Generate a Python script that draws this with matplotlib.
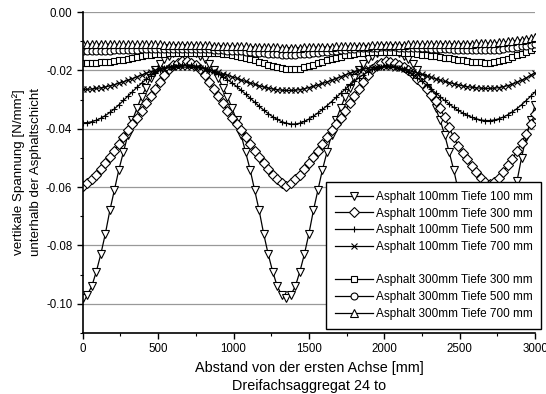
import matplotlib
matplotlib.use('Agg')
import matplotlib.pyplot as plt
from matplotlib.lines import Line2D
from matplotlib.ticker import MultipleLocator, FuncFormatter

plt.rcParams['font.family'] = ['Liberation Sans', 'DejaVu Sans']
plt.rcParams['axes.unicode_minus'] = False

# position along the road [mm], 30 mm steps
abstand = list(range(0, 3001, 30))

# Asphalt 100mm, Tiefe 100 mm
a100_t100 = [
    -0.0980, -0.0970, -0.0940, -0.0890, -0.0830, -0.0760, -0.0680, -0.0610, -0.0540, -0.0480,
    -0.0420, -0.0370, -0.0330, -0.0290, -0.0260, -0.0225, -0.0198, -0.0178, -0.0162, -0.0150,
    -0.0141, -0.0135, -0.0132, -0.0132, -0.0135, -0.0141, -0.0150, -0.0162, -0.0178, -0.0198,
    -0.0225, -0.0260, -0.0290, -0.0330, -0.0370, -0.0420, -0.0480, -0.0540, -0.0610, -0.0680,
    -0.0760, -0.0830, -0.0890, -0.0940, -0.0970, -0.0980, -0.0970, -0.0940, -0.0890, -0.0830,
    -0.0760, -0.0680, -0.0610, -0.0540, -0.0480, -0.0420, -0.0370, -0.0330, -0.0290, -0.0260,
    -0.0225, -0.0198, -0.0178, -0.0162, -0.0150, -0.0141, -0.0135, -0.0132, -0.0132, -0.0135,
    -0.0141, -0.0150, -0.0162, -0.0178, -0.0198, -0.0225, -0.0260, -0.0290, -0.0330, -0.0370,
    -0.0420, -0.0480, -0.0540, -0.0610, -0.0680, -0.0760, -0.0830, -0.0890, -0.0940, -0.0970,
    -0.0980, -0.0960, -0.0920, -0.0850, -0.0760, -0.0670, -0.0580, -0.0500, -0.0430, -0.0370,
    -0.0320,
]

# Asphalt 100mm, Tiefe 300 mm
a100_t300 = [
    -0.0595, -0.0587, -0.0574, -0.0557, -0.0538, -0.0518, -0.0497, -0.0475, -0.0452, -0.0428,
    -0.0405, -0.0385, -0.0362, -0.0338, -0.0313, -0.0289, -0.0265, -0.0240, -0.0215, -0.0195,
    -0.0183, -0.0174, -0.0169, -0.0169, -0.0174, -0.0183, -0.0195, -0.0215, -0.0240, -0.0265,
    -0.0289, -0.0313, -0.0338, -0.0362, -0.0385, -0.0405, -0.0428, -0.0452, -0.0475, -0.0497,
    -0.0518, -0.0538, -0.0557, -0.0574, -0.0587, -0.0595, -0.0587, -0.0574, -0.0557, -0.0538,
    -0.0518, -0.0497, -0.0475, -0.0452, -0.0428, -0.0405, -0.0385, -0.0362, -0.0338, -0.0313,
    -0.0289, -0.0265, -0.0240, -0.0215, -0.0195, -0.0183, -0.0174, -0.0169, -0.0170, -0.0174,
    -0.0180, -0.0189, -0.0200, -0.0213, -0.0228, -0.0245, -0.0263, -0.0283, -0.0305, -0.0330,
    -0.0360, -0.0395, -0.0430, -0.0458, -0.0482, -0.0505, -0.0527, -0.0548, -0.0568, -0.0582,
    -0.0590, -0.0584, -0.0570, -0.0548, -0.0525, -0.0505, -0.0475, -0.0448, -0.0418, -0.0385,
    -0.0348,
]

# Asphalt 100mm, Tiefe 500 mm
a100_t500 = [
    -0.0380, -0.0379, -0.0376, -0.0371, -0.0364, -0.0355, -0.0344, -0.0332, -0.0318, -0.0303,
    -0.0288, -0.0273, -0.0258, -0.0244, -0.0231, -0.0219, -0.0209, -0.0200, -0.0193, -0.0188,
    -0.0185, -0.0183, -0.0182, -0.0182, -0.0183, -0.0185, -0.0188, -0.0192, -0.0198, -0.0205,
    -0.0213, -0.0222, -0.0232, -0.0243, -0.0255, -0.0268, -0.0281, -0.0295, -0.0309, -0.0323,
    -0.0336, -0.0348, -0.0359, -0.0368, -0.0376, -0.0381, -0.0384, -0.0384, -0.0381, -0.0375,
    -0.0367, -0.0357, -0.0346, -0.0334, -0.0321, -0.0307, -0.0293, -0.0279, -0.0265, -0.0251,
    -0.0238, -0.0226, -0.0215, -0.0205, -0.0197, -0.0191, -0.0187, -0.0185, -0.0185, -0.0187,
    -0.0191, -0.0197, -0.0205, -0.0215, -0.0226, -0.0238, -0.0251, -0.0264, -0.0277, -0.0290,
    -0.0303, -0.0315, -0.0327, -0.0337, -0.0346, -0.0354, -0.0361, -0.0366, -0.0370, -0.0372,
    -0.0372, -0.0370, -0.0366, -0.0360, -0.0352, -0.0342, -0.0331, -0.0318, -0.0304, -0.0289,
    -0.0274,
]

# Asphalt 100mm, Tiefe 700 mm
a100_t700 = [
    -0.0265, -0.0265, -0.0264, -0.0262, -0.0260, -0.0257, -0.0253, -0.0249, -0.0244, -0.0239,
    -0.0234, -0.0228, -0.0222, -0.0216, -0.0210, -0.0205, -0.0200, -0.0196, -0.0193, -0.0191,
    -0.0190, -0.0189, -0.0189, -0.0189, -0.0190, -0.0191, -0.0193, -0.0196, -0.0199, -0.0203,
    -0.0207, -0.0212, -0.0217, -0.0222, -0.0227, -0.0233, -0.0238, -0.0243, -0.0248, -0.0253,
    -0.0257, -0.0261, -0.0264, -0.0266, -0.0268, -0.0269, -0.0269, -0.0268, -0.0266, -0.0263,
    -0.0259, -0.0255, -0.0250, -0.0245, -0.0240, -0.0234, -0.0228, -0.0222, -0.0216, -0.0210,
    -0.0205, -0.0200, -0.0196, -0.0193, -0.0191, -0.0190, -0.0189, -0.0189, -0.0190, -0.0191,
    -0.0193, -0.0196, -0.0200, -0.0204, -0.0209, -0.0214, -0.0219, -0.0224, -0.0229, -0.0234,
    -0.0238, -0.0242, -0.0246, -0.0250, -0.0253, -0.0256, -0.0258, -0.0260, -0.0261, -0.0262,
    -0.0262, -0.0261, -0.0259, -0.0256, -0.0252, -0.0247, -0.0241, -0.0234, -0.0226, -0.0217,
    -0.0208,
]

# Asphalt 300mm, Tiefe 300 mm
a300_t300 = [
    -0.0175, -0.0175, -0.0175, -0.0174, -0.0173, -0.0172, -0.0170, -0.0168, -0.0166, -0.0163,
    -0.0160, -0.0157, -0.0154, -0.0151, -0.0149, -0.0147, -0.0145, -0.0144, -0.0143, -0.0142,
    -0.0141, -0.0141, -0.0140, -0.0140, -0.0140, -0.0140, -0.0140, -0.0140, -0.0141, -0.0141,
    -0.0142, -0.0143, -0.0145, -0.0147, -0.0150, -0.0153, -0.0157, -0.0161, -0.0165, -0.0170,
    -0.0175, -0.0180, -0.0185, -0.0189, -0.0193, -0.0195, -0.0197, -0.0196, -0.0194, -0.0190,
    -0.0186, -0.0181, -0.0176, -0.0171, -0.0166, -0.0161, -0.0157, -0.0153, -0.0149, -0.0146,
    -0.0143, -0.0141, -0.0139, -0.0138, -0.0137, -0.0136, -0.0136, -0.0136, -0.0136, -0.0137,
    -0.0138, -0.0139, -0.0141, -0.0142, -0.0144, -0.0146, -0.0148, -0.0150, -0.0152, -0.0154,
    -0.0157, -0.0159, -0.0162, -0.0164, -0.0166, -0.0168, -0.0170, -0.0172, -0.0173, -0.0174,
    -0.0174, -0.0172, -0.0169, -0.0165, -0.0160, -0.0155, -0.0149, -0.0143, -0.0137, -0.0131,
    -0.0125,
]

# Asphalt 300mm, Tiefe 500 mm
a300_t500 = [
    -0.0133, -0.0133, -0.0133, -0.0133, -0.0132, -0.0132, -0.0132, -0.0131, -0.0131, -0.0130,
    -0.0130, -0.0129, -0.0129, -0.0128, -0.0128, -0.0128, -0.0127, -0.0127, -0.0127, -0.0127,
    -0.0127, -0.0127, -0.0127, -0.0127, -0.0127, -0.0127, -0.0127, -0.0128, -0.0128, -0.0129,
    -0.0130, -0.0131, -0.0132, -0.0133, -0.0134, -0.0135, -0.0137, -0.0138, -0.0139, -0.0141,
    -0.0142, -0.0143, -0.0144, -0.0145, -0.0146, -0.0146, -0.0146, -0.0146, -0.0145, -0.0144,
    -0.0143, -0.0141, -0.0140, -0.0138, -0.0136, -0.0134, -0.0132, -0.0130, -0.0129, -0.0127,
    -0.0126, -0.0125, -0.0124, -0.0123, -0.0122, -0.0122, -0.0121, -0.0121, -0.0121, -0.0121,
    -0.0122, -0.0122, -0.0123, -0.0123, -0.0124, -0.0124, -0.0125, -0.0126, -0.0126, -0.0127,
    -0.0128, -0.0128, -0.0129, -0.0129, -0.0130, -0.0130, -0.0131, -0.0131, -0.0131, -0.0131,
    -0.0131, -0.0130, -0.0129, -0.0127, -0.0125, -0.0123, -0.0121, -0.0118, -0.0115, -0.0112,
    -0.0108,
]

# Asphalt 300mm, Tiefe 700 mm
a300_t700 = [
    -0.0110, -0.0110, -0.0110, -0.0110, -0.0110, -0.0110, -0.0110, -0.0111, -0.0111, -0.0111,
    -0.0111, -0.0111, -0.0111, -0.0111, -0.0111, -0.0111, -0.0111, -0.0111, -0.0112, -0.0112,
    -0.0112, -0.0112, -0.0112, -0.0112, -0.0113, -0.0113, -0.0113, -0.0114, -0.0114, -0.0115,
    -0.0115, -0.0116, -0.0116, -0.0117, -0.0117, -0.0118, -0.0118, -0.0119, -0.0119, -0.0120,
    -0.0120, -0.0121, -0.0121, -0.0121, -0.0122, -0.0122, -0.0122, -0.0122, -0.0122, -0.0121,
    -0.0121, -0.0121, -0.0120, -0.0120, -0.0119, -0.0119, -0.0118, -0.0118, -0.0117, -0.0117,
    -0.0116, -0.0116, -0.0115, -0.0115, -0.0114, -0.0114, -0.0113, -0.0113, -0.0113, -0.0112,
    -0.0112, -0.0112, -0.0111, -0.0111, -0.0111, -0.0110, -0.0110, -0.0110, -0.0110, -0.0109,
    -0.0109, -0.0109, -0.0109, -0.0108, -0.0108, -0.0108, -0.0108, -0.0107, -0.0107, -0.0107,
    -0.0106, -0.0105, -0.0104, -0.0103, -0.0101, -0.0099, -0.0097, -0.0095, -0.0093, -0.0090,
    -0.0087,
]

series = [
    (a100_t100, 'v', 'Asphalt 100mm Tiefe 100 mm'),
    (a100_t300, 'D', 'Asphalt 100mm Tiefe 300 mm'),
    (a100_t500, '+', 'Asphalt 100mm Tiefe 500 mm'),
    (a100_t700, 'x', 'Asphalt 100mm Tiefe 700 mm'),
    (a300_t300, 's', 'Asphalt 300mm Tiefe 300 mm'),
    (a300_t500, 'o', 'Asphalt 300mm Tiefe 500 mm'),
    (a300_t700, '^', 'Asphalt 300mm Tiefe 700 mm'),
]
sizes = {'v': 5.4, 'D': 4.6, '+': 5.0, 'x': 4.4, 's': 4.8, 'o': 5.0, '^': 5.4}

fig = plt.figure(figsize=(5.46, 3.94), dpi=100)
ax = fig.add_axes([0.1515, 0.155, 0.8285, 0.8145])

handles = []
for vals, m, lab in series:
    ln, = ax.plot(abstand, vals, color='black', lw=0.9, marker=m, ms=sizes[m],
                  mfc='white', mec='black', mew=0.8, label=lab)
    handles.append(ln)

ax.set_xlim(0, 3000)
ax.set_ylim(-0.11, 0.0)
ax.xaxis.set_major_locator(MultipleLocator(500))
ax.xaxis.set_minor_locator(MultipleLocator(250))
ax.yaxis.set_major_locator(MultipleLocator(0.02))
ax.yaxis.set_minor_locator(MultipleLocator(0.01))
ax.yaxis.set_major_formatter(FuncFormatter(lambda v, p: '%.2f' % v if abs(v) > 1e-9 else '0.00'))
ax.grid(axis='y', which='major', color='#999999', lw=0.9)
ax.set_axisbelow(True)
for s in ('top', 'right'):
    ax.spines[s].set_visible(False)
ax.spines['left'].set_linewidth(1.2)
ax.spines['bottom'].set_linewidth(1.2)
ax.tick_params(which='major', direction='out', length=4, width=1, labelsize=8.3)
ax.tick_params(which='minor', direction='out', length=2.5, width=0.8)

ax.set_xlabel('Abstand von der ersten Achse [mm]\nDreifachsaggregat 24 to', fontsize=10.4, linespacing=1.4)
ax.set_ylabel('vertikale Spannung [N/mm²]\nunterhalb der Asphaltschicht', fontsize=9.6,
              linespacing=1.55, labelpad=3)

blank = Line2D([], [], linestyle='none', marker=None)
leg_h = handles[:4] + [blank] + handles[4:]
leg_l = [h.get_label() for h in handles[:4]] + [' '] + [h.get_label() for h in handles[4:]]
leg = ax.legend(leg_h, leg_l, loc='upper left', bbox_to_anchor=(0.597, 0.538),
                bbox_transform=fig.transFigure, borderaxespad=0, fontsize=8.5, frameon=True,
                fancybox=False, edgecolor='black', framealpha=1, handlelength=3.2,
                handletextpad=0.25, labelspacing=0.4, borderpad=0.75, numpoints=1)
leg.get_frame().set_linewidth(1.0)

fig.savefig('out.png', dpi=100)
